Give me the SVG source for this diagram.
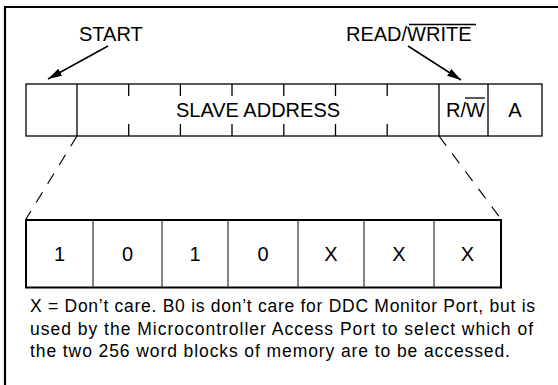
<svg xmlns="http://www.w3.org/2000/svg" width="558" height="385" viewBox="0 0 558 385">
<defs>
<style>
text{font-family:"Liberation Sans",Arial,sans-serif;fill:#000}
.lbl{font-size:20px}
.cell{font-size:20px;text-anchor:middle}
.para{font-size:17.5px}
.thin{stroke:#000;stroke-width:1.3;fill:none}
.div{stroke:#333;stroke-width:1.2;fill:none}
.dash{stroke:#000;stroke-width:1.2;stroke-dasharray:12 10;fill:none}
.arr{stroke:#000;stroke-width:1.5;fill:none;marker-end:url(#ah)}
</style>
<marker id="ah" viewBox="0 0 14 8" refX="14" refY="4" markerWidth="14" markerHeight="8" markerUnits="userSpaceOnUse" orient="auto">
<path d="M0,0 L14,4 L0,8 z" fill="#000"/>
</marker>
</defs>
<rect width="558" height="385" fill="#fff"/>
<path d="M5,385 V7 H558" stroke="#000" stroke-width="2.2" fill="none"/>

<g id="start-label">
<text class="lbl" x="79" y="41">START</text>
</g>
<g id="rw-label">
<text class="lbl" x="346" y="41">READ/WRITE</text>
<line x1="409" y1="24.5" x2="476" y2="24.5" stroke="#000" stroke-width="1.3"/>
</g>

<g id="address-byte">
<rect class="thin" x="26" y="84" width="516" height="52"/>
<line class="thin" x1="77" y1="84" x2="77" y2="136"/>
<line class="thin" x1="439" y1="84" x2="439" y2="136"/>
<line class="thin" x1="488" y1="84" x2="488" y2="136"/>
<path class="thin" d="M128.7,84v12M128.7,136v-12M180.4,84v12M180.4,136v-12M232,84v12M232,136v-12M283.8,84v12M283.8,136v-12M335.5,84v12M335.5,136v-12M387.2,84v12M387.2,136v-12"/>
<text class="cell" x="258" y="117">SLAVE ADDRESS</text>
<text class="lbl" x="446" y="117">R/W</text>
<line x1="465" y1="98" x2="485" y2="98" stroke="#000" stroke-width="1.3"/>
<text class="cell" x="515" y="117">A</text>
</g>

<g id="connectors">
<line class="arr" x1="108" y1="46" x2="48" y2="79"/>
<line class="arr" x1="408" y1="46" x2="461" y2="80"/>
<line class="dash" x1="77" y1="136" x2="26" y2="219"/>
<line class="dash" x1="439" y1="136" x2="501" y2="219"/>
</g>

<g id="bit-field">
<rect x="26" y="220" width="475" height="67.5" fill="none" stroke="#000" stroke-width="2"/>
<path class="div" d="M93,220V287.5M162,220V287.5M228,220V287.5M298,220V287.5M364,220V287.5M434,220V287.5"/>
<text class="cell" x="59.5" y="261">1</text>
<text class="cell" x="127.5" y="261">0</text>
<text class="cell" x="195" y="261">1</text>
<text class="cell" x="263" y="261">0</text>
<text class="cell" x="331" y="261">X</text>
<text class="cell" x="399" y="261">X</text>
<text class="cell" x="467.5" y="261">X</text>
</g>

<g id="note">
<text class="para" x="30" y="312" textLength="505" lengthAdjust="spacing">X = Don’t care. B0 is don’t care for DDC Monitor Port, but is</text>
<text class="para" x="30" y="335" textLength="503" lengthAdjust="spacing">used by the Microcontroller Access Port to select which of</text>
<text class="para" x="30" y="357" textLength="480" lengthAdjust="spacing">the two 256 word blocks of memory are to be accessed.</text>
</g>
</svg>
